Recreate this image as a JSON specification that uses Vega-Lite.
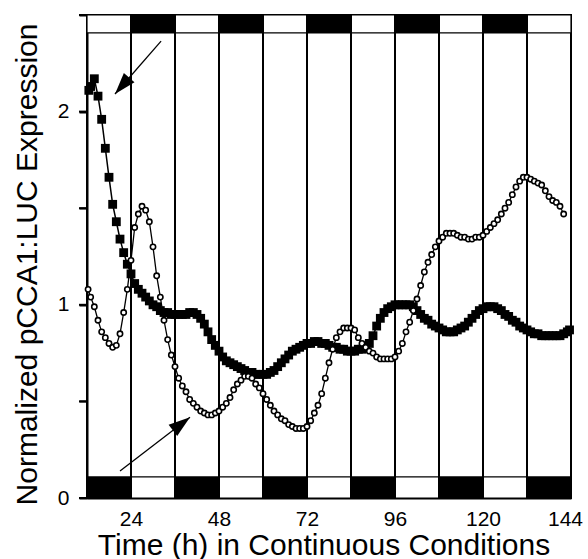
{
  "$schema": "https://vega.github.io/schema/vega-lite/v6.json",
  "width": 484,
  "height": 483,
  "autosize": {"type": "none"},
  "padding": {"left": 87, "top": 15, "right": 17, "bottom": 61},
  "config": {
    "font": "Liberation Sans",
    "view": {"stroke": "black", "strokeWidth": 2},
    "axis": {"grid": false, "domainColor": "black", "domainWidth": 2, "tickColor": "black", "labelColor": "black", "titleColor": "black", "titleFontWeight": "normal", "labelFont": "Liberation Sans", "titleFont": "Liberation Sans", "labelFlush": false, "labelOverlap": false},
    "axisY": {"ticks": true, "tickSize": 8, "tickWidth": 2, "tickColor": "black", "tickOpacity": 1}
  },
  "datasets": {
    "bars": [
      {"start": 12, "end": 24, "bottom": "dark", "top": "light"},
      {"start": 24, "end": 36, "bottom": "light", "top": "dark"},
      {"start": 36, "end": 48, "bottom": "dark", "top": "light"},
      {"start": 48, "end": 60, "bottom": "light", "top": "dark"},
      {"start": 60, "end": 72, "bottom": "dark", "top": "light"},
      {"start": 72, "end": 84, "bottom": "light", "top": "dark"},
      {"start": 84, "end": 96, "bottom": "dark", "top": "light"},
      {"start": 96, "end": 108, "bottom": "light", "top": "dark"},
      {"start": 108, "end": 120, "bottom": "dark", "top": "light"},
      {"start": 120, "end": 132, "bottom": "light", "top": "dark"},
      {"start": 132, "end": 144, "bottom": "dark", "top": "light"}
    ],
    "yticks": [{"v": 0}, {"v": 0.5}, {"v": 1}, {"v": 1.5}, {"v": 2}, {"v": 2.5}],
    "arrows": [
      {"id": "A", "t_start": 32.2, "v_start": 2.365, "t_end": 19.64, "v_end": 2.091},
      {"id": "B", "t_start": 21.0, "v_start": 0.14, "t_end": 40.09, "v_end": 0.418}
    ],
    "curves": [
      {"series": "A", "t": 12.5, "value": 2.11},
      {"series": "A", "t": 13, "value": 2.13},
      {"series": "A", "t": 14, "value": 2.17},
      {"series": "A", "t": 15, "value": 2.08},
      {"series": "A", "t": 16, "value": 1.96},
      {"series": "A", "t": 17, "value": 1.81},
      {"series": "A", "t": 18, "value": 1.66},
      {"series": "A", "t": 19, "value": 1.52},
      {"series": "A", "t": 20, "value": 1.43},
      {"series": "A", "t": 21, "value": 1.34},
      {"series": "A", "t": 22, "value": 1.27},
      {"series": "A", "t": 23, "value": 1.21},
      {"series": "A", "t": 24, "value": 1.16},
      {"series": "A", "t": 25, "value": 1.11},
      {"series": "A", "t": 26, "value": 1.08},
      {"series": "A", "t": 27, "value": 1.06},
      {"series": "A", "t": 28, "value": 1.04},
      {"series": "A", "t": 29, "value": 1.02},
      {"series": "A", "t": 30, "value": 1.0},
      {"series": "A", "t": 31, "value": 0.99},
      {"series": "A", "t": 32, "value": 0.97},
      {"series": "A", "t": 33, "value": 0.96},
      {"series": "A", "t": 34, "value": 0.96},
      {"series": "A", "t": 35, "value": 0.95},
      {"series": "A", "t": 36, "value": 0.95},
      {"series": "A", "t": 37, "value": 0.95},
      {"series": "A", "t": 38, "value": 0.95},
      {"series": "A", "t": 39, "value": 0.95},
      {"series": "A", "t": 40, "value": 0.96},
      {"series": "A", "t": 41, "value": 0.96},
      {"series": "A", "t": 42, "value": 0.95},
      {"series": "A", "t": 43, "value": 0.93},
      {"series": "A", "t": 44, "value": 0.9},
      {"series": "A", "t": 45, "value": 0.86},
      {"series": "A", "t": 46, "value": 0.82},
      {"series": "A", "t": 47, "value": 0.79},
      {"series": "A", "t": 48, "value": 0.76},
      {"series": "A", "t": 49, "value": 0.73},
      {"series": "A", "t": 50, "value": 0.71},
      {"series": "A", "t": 51, "value": 0.7},
      {"series": "A", "t": 52, "value": 0.69},
      {"series": "A", "t": 53, "value": 0.68},
      {"series": "A", "t": 54, "value": 0.67},
      {"series": "A", "t": 55, "value": 0.66},
      {"series": "A", "t": 56, "value": 0.65},
      {"series": "A", "t": 57, "value": 0.65},
      {"series": "A", "t": 58, "value": 0.64},
      {"series": "A", "t": 59, "value": 0.64},
      {"series": "A", "t": 60, "value": 0.64},
      {"series": "A", "t": 61, "value": 0.64},
      {"series": "A", "t": 62, "value": 0.65},
      {"series": "A", "t": 63, "value": 0.66},
      {"series": "A", "t": 64, "value": 0.68},
      {"series": "A", "t": 65, "value": 0.7},
      {"series": "A", "t": 66, "value": 0.72},
      {"series": "A", "t": 67, "value": 0.74},
      {"series": "A", "t": 68, "value": 0.76},
      {"series": "A", "t": 69, "value": 0.77},
      {"series": "A", "t": 70, "value": 0.78},
      {"series": "A", "t": 71, "value": 0.79},
      {"series": "A", "t": 72, "value": 0.8},
      {"series": "A", "t": 73, "value": 0.8},
      {"series": "A", "t": 74, "value": 0.81},
      {"series": "A", "t": 75, "value": 0.81},
      {"series": "A", "t": 76, "value": 0.8},
      {"series": "A", "t": 77, "value": 0.8},
      {"series": "A", "t": 78, "value": 0.79},
      {"series": "A", "t": 79, "value": 0.78},
      {"series": "A", "t": 80, "value": 0.78},
      {"series": "A", "t": 81, "value": 0.77},
      {"series": "A", "t": 82, "value": 0.77},
      {"series": "A", "t": 83, "value": 0.76},
      {"series": "A", "t": 84, "value": 0.76},
      {"series": "A", "t": 85, "value": 0.76},
      {"series": "A", "t": 86, "value": 0.77},
      {"series": "A", "t": 87, "value": 0.77},
      {"series": "A", "t": 88, "value": 0.78},
      {"series": "A", "t": 89, "value": 0.8},
      {"series": "A", "t": 90, "value": 0.84},
      {"series": "A", "t": 91, "value": 0.89},
      {"series": "A", "t": 92, "value": 0.93},
      {"series": "A", "t": 93, "value": 0.96},
      {"series": "A", "t": 94, "value": 0.98},
      {"series": "A", "t": 95, "value": 0.99},
      {"series": "A", "t": 96, "value": 1.0},
      {"series": "A", "t": 97, "value": 1.0},
      {"series": "A", "t": 98, "value": 1.0},
      {"series": "A", "t": 99, "value": 1.0},
      {"series": "A", "t": 100, "value": 1.0},
      {"series": "A", "t": 101, "value": 0.99},
      {"series": "A", "t": 102, "value": 0.97},
      {"series": "A", "t": 103, "value": 0.95},
      {"series": "A", "t": 104, "value": 0.93},
      {"series": "A", "t": 105, "value": 0.92},
      {"series": "A", "t": 106, "value": 0.9},
      {"series": "A", "t": 107, "value": 0.89},
      {"series": "A", "t": 108, "value": 0.88},
      {"series": "A", "t": 109, "value": 0.87},
      {"series": "A", "t": 110, "value": 0.86},
      {"series": "A", "t": 111, "value": 0.86},
      {"series": "A", "t": 112, "value": 0.86},
      {"series": "A", "t": 113, "value": 0.87},
      {"series": "A", "t": 114, "value": 0.88},
      {"series": "A", "t": 115, "value": 0.89},
      {"series": "A", "t": 116, "value": 0.91},
      {"series": "A", "t": 117, "value": 0.93},
      {"series": "A", "t": 118, "value": 0.95},
      {"series": "A", "t": 119, "value": 0.97},
      {"series": "A", "t": 120, "value": 0.98},
      {"series": "A", "t": 121, "value": 0.99},
      {"series": "A", "t": 122, "value": 0.99},
      {"series": "A", "t": 123, "value": 0.99},
      {"series": "A", "t": 124, "value": 0.98},
      {"series": "A", "t": 125, "value": 0.97},
      {"series": "A", "t": 126, "value": 0.95},
      {"series": "A", "t": 127, "value": 0.94},
      {"series": "A", "t": 128, "value": 0.92},
      {"series": "A", "t": 129, "value": 0.91},
      {"series": "A", "t": 130, "value": 0.89},
      {"series": "A", "t": 131, "value": 0.88},
      {"series": "A", "t": 132, "value": 0.87},
      {"series": "A", "t": 133, "value": 0.86},
      {"series": "A", "t": 134, "value": 0.85},
      {"series": "A", "t": 135, "value": 0.85},
      {"series": "A", "t": 136, "value": 0.84},
      {"series": "A", "t": 137, "value": 0.84},
      {"series": "A", "t": 138, "value": 0.84},
      {"series": "A", "t": 139, "value": 0.84},
      {"series": "A", "t": 140, "value": 0.84},
      {"series": "A", "t": 141, "value": 0.84},
      {"series": "A", "t": 142, "value": 0.85},
      {"series": "A", "t": 143, "value": 0.86},
      {"series": "A", "t": 143.6, "value": 0.87},
      {"series": "B", "t": 12.3, "value": 1.08},
      {"series": "B", "t": 13, "value": 1.04},
      {"series": "B", "t": 14, "value": 0.99},
      {"series": "B", "t": 15, "value": 0.92},
      {"series": "B", "t": 16, "value": 0.86},
      {"series": "B", "t": 17, "value": 0.83},
      {"series": "B", "t": 18, "value": 0.8},
      {"series": "B", "t": 19, "value": 0.78},
      {"series": "B", "t": 20, "value": 0.79},
      {"series": "B", "t": 21, "value": 0.85},
      {"series": "B", "t": 22, "value": 0.96},
      {"series": "B", "t": 23, "value": 1.08},
      {"series": "B", "t": 24, "value": 1.23},
      {"series": "B", "t": 25, "value": 1.4},
      {"series": "B", "t": 26, "value": 1.47},
      {"series": "B", "t": 27, "value": 1.51},
      {"series": "B", "t": 28, "value": 1.49},
      {"series": "B", "t": 29, "value": 1.43},
      {"series": "B", "t": 30, "value": 1.3},
      {"series": "B", "t": 31, "value": 1.15},
      {"series": "B", "t": 32, "value": 1.04},
      {"series": "B", "t": 33, "value": 0.92},
      {"series": "B", "t": 34, "value": 0.82},
      {"series": "B", "t": 35, "value": 0.74},
      {"series": "B", "t": 36, "value": 0.68},
      {"series": "B", "t": 37, "value": 0.62},
      {"series": "B", "t": 38, "value": 0.58},
      {"series": "B", "t": 39, "value": 0.55},
      {"series": "B", "t": 40, "value": 0.51},
      {"series": "B", "t": 41, "value": 0.49},
      {"series": "B", "t": 42, "value": 0.47},
      {"series": "B", "t": 43, "value": 0.45},
      {"series": "B", "t": 44, "value": 0.44},
      {"series": "B", "t": 45, "value": 0.43},
      {"series": "B", "t": 46, "value": 0.43},
      {"series": "B", "t": 47, "value": 0.44},
      {"series": "B", "t": 48, "value": 0.45},
      {"series": "B", "t": 49, "value": 0.47},
      {"series": "B", "t": 50, "value": 0.49},
      {"series": "B", "t": 51, "value": 0.52},
      {"series": "B", "t": 52, "value": 0.56},
      {"series": "B", "t": 53, "value": 0.59},
      {"series": "B", "t": 54, "value": 0.61},
      {"series": "B", "t": 55, "value": 0.63},
      {"series": "B", "t": 56, "value": 0.63},
      {"series": "B", "t": 57, "value": 0.62},
      {"series": "B", "t": 58, "value": 0.59},
      {"series": "B", "t": 59, "value": 0.57},
      {"series": "B", "t": 60, "value": 0.54},
      {"series": "B", "t": 61, "value": 0.51},
      {"series": "B", "t": 62, "value": 0.48},
      {"series": "B", "t": 63, "value": 0.45},
      {"series": "B", "t": 64, "value": 0.43},
      {"series": "B", "t": 65, "value": 0.41},
      {"series": "B", "t": 66, "value": 0.4},
      {"series": "B", "t": 67, "value": 0.38},
      {"series": "B", "t": 68, "value": 0.37},
      {"series": "B", "t": 69, "value": 0.36},
      {"series": "B", "t": 70, "value": 0.36},
      {"series": "B", "t": 71, "value": 0.36},
      {"series": "B", "t": 72, "value": 0.37},
      {"series": "B", "t": 73, "value": 0.4},
      {"series": "B", "t": 74, "value": 0.44},
      {"series": "B", "t": 75, "value": 0.48},
      {"series": "B", "t": 76, "value": 0.54},
      {"series": "B", "t": 77, "value": 0.62},
      {"series": "B", "t": 78, "value": 0.7},
      {"series": "B", "t": 79, "value": 0.77},
      {"series": "B", "t": 80, "value": 0.83},
      {"series": "B", "t": 81, "value": 0.86},
      {"series": "B", "t": 82, "value": 0.88},
      {"series": "B", "t": 83, "value": 0.88},
      {"series": "B", "t": 84, "value": 0.88},
      {"series": "B", "t": 85, "value": 0.87},
      {"series": "B", "t": 86, "value": 0.83},
      {"series": "B", "t": 87, "value": 0.8},
      {"series": "B", "t": 88, "value": 0.78},
      {"series": "B", "t": 89, "value": 0.76},
      {"series": "B", "t": 90, "value": 0.75},
      {"series": "B", "t": 91, "value": 0.73},
      {"series": "B", "t": 92, "value": 0.72},
      {"series": "B", "t": 93, "value": 0.72},
      {"series": "B", "t": 94, "value": 0.72},
      {"series": "B", "t": 95, "value": 0.72},
      {"series": "B", "t": 96, "value": 0.73},
      {"series": "B", "t": 97, "value": 0.76},
      {"series": "B", "t": 98, "value": 0.8},
      {"series": "B", "t": 99, "value": 0.86},
      {"series": "B", "t": 100, "value": 0.91},
      {"series": "B", "t": 101, "value": 0.97},
      {"series": "B", "t": 102, "value": 1.03},
      {"series": "B", "t": 103, "value": 1.1},
      {"series": "B", "t": 104, "value": 1.17},
      {"series": "B", "t": 105, "value": 1.22},
      {"series": "B", "t": 106, "value": 1.26},
      {"series": "B", "t": 107, "value": 1.3},
      {"series": "B", "t": 108, "value": 1.33},
      {"series": "B", "t": 109, "value": 1.35},
      {"series": "B", "t": 110, "value": 1.37},
      {"series": "B", "t": 111, "value": 1.37},
      {"series": "B", "t": 112, "value": 1.37},
      {"series": "B", "t": 113, "value": 1.36},
      {"series": "B", "t": 114, "value": 1.35},
      {"series": "B", "t": 115, "value": 1.35},
      {"series": "B", "t": 116, "value": 1.34},
      {"series": "B", "t": 117, "value": 1.34},
      {"series": "B", "t": 118, "value": 1.35},
      {"series": "B", "t": 119, "value": 1.35},
      {"series": "B", "t": 120, "value": 1.36},
      {"series": "B", "t": 121, "value": 1.38},
      {"series": "B", "t": 122, "value": 1.4},
      {"series": "B", "t": 123, "value": 1.42},
      {"series": "B", "t": 124, "value": 1.44},
      {"series": "B", "t": 125, "value": 1.47},
      {"series": "B", "t": 126, "value": 1.5},
      {"series": "B", "t": 127, "value": 1.53},
      {"series": "B", "t": 128, "value": 1.57},
      {"series": "B", "t": 129, "value": 1.61},
      {"series": "B", "t": 130, "value": 1.64},
      {"series": "B", "t": 131, "value": 1.66},
      {"series": "B", "t": 132, "value": 1.66},
      {"series": "B", "t": 133, "value": 1.65},
      {"series": "B", "t": 134, "value": 1.64},
      {"series": "B", "t": 135, "value": 1.63},
      {"series": "B", "t": 136, "value": 1.62},
      {"series": "B", "t": 137, "value": 1.59},
      {"series": "B", "t": 138, "value": 1.56},
      {"series": "B", "t": 139, "value": 1.54},
      {"series": "B", "t": 140, "value": 1.53},
      {"series": "B", "t": 141, "value": 1.51},
      {"series": "B", "t": 142, "value": 1.47}
    ]
  },
  "layer": [
    {
      "data": {"name": "bars"},
      "mark": {"type": "rect", "stroke": "black", "strokeWidth": 1.2},
      "encoding": {
        "x": {
          "field": "start", "type": "quantitative",
          "scale": {"domain": [12, 144], "nice": false, "zero": false},
          "axis": {
            "title": "Time (h) in Continuous Conditions",
            "values": [24, 48, 72, 96, 120, 144],
            "ticks": false,
            "labelFontSize": 21,
            "labelPadding": 10,
            "labelOffset": {"expr": "datum.value === 144 ? -6 : 0"},
            "titleFontSize": 30,
            "titleX": 236.5,
            "titleY": 56,
            "titleBaseline": "alphabetic",
            "titleAlign": "center"
          }
        },
        "x2": {"field": "end"},
        "y": {
          "datum": 0, "type": "quantitative",
          "scale": {"domain": [0, 2.5], "nice": false},
          "axis": {
            "title": "Normalized pCCA1:LUC Expression",
            "values": [0, 0.5, 1, 1.5, 2, 2.5],
            "labelExpr": "datum.value === 0 || datum.value === 1 || datum.value === 2 ? format(datum.value, 'd') : ''",
            "ticks": true,
            "tickSize": 8,
            "tickWidth": 2,
            "tickColor": "black",
            "labelFontSize": 21,
            "labelPadding": 10,
            "titleFontSize": 30,
            "titleX": -51,
            "titleY": 249,
            "titleAngle": 270,
            "titleBaseline": "alphabetic",
            "titleAlign": "center"
          }
        },
        "y2": {"datum": 0.109},
        "fill": {"field": "bottom", "type": "nominal", "scale": {"domain": ["dark", "light"], "range": ["black", "white"]}, "legend": null}
      }
    },
    {
      "data": {"name": "bars"},
      "mark": {"type": "rect", "stroke": "black", "strokeWidth": 1.2},
      "encoding": {
        "x": {"field": "start", "type": "quantitative"},
        "x2": {"field": "end"},
        "y": {"datum": 2.407, "type": "quantitative"},
        "y2": {"datum": 2.5},
        "fill": {"field": "top", "type": "nominal", "legend": null}
      }
    },
    {
      "data": {"name": "bars"},
      "transform": [{"filter": "datum.start > 12"}],
      "mark": {"type": "rule", "color": "black", "strokeWidth": 2},
      "encoding": {
        "x": {"field": "start", "type": "quantitative"}
      }
    },
    {
      "data": {"name": "yticks"},
      "mark": {"type": "rule", "color": "black", "strokeWidth": 2},
      "encoding": {
        "x": {"datum": 12, "type": "quantitative"},
        "x2": {"datum": 9.82},
        "y": {"field": "v", "type": "quantitative"}
      }
    },
    {
      "data": {"name": "curves"},
      "transform": [{"filter": "datum.series === 'A'"}],
      "mark": {"type": "line", "color": "black", "strokeWidth": 1.5},
      "encoding": {
        "x": {"field": "t", "type": "quantitative"},
        "y": {"field": "value", "type": "quantitative"}
      }
    },
    {
      "data": {"name": "curves"},
      "transform": [{"filter": "datum.series === 'A'"}],
      "mark": {"type": "point", "shape": "square", "filled": true, "fill": "black", "size": 78, "opacity": 1},
      "encoding": {
        "x": {"field": "t", "type": "quantitative"},
        "y": {"field": "value", "type": "quantitative"}
      }
    },
    {
      "data": {"name": "curves"},
      "transform": [{"filter": "datum.series === 'B'"}],
      "mark": {"type": "line", "color": "black", "strokeWidth": 1.3},
      "encoding": {
        "x": {"field": "t", "type": "quantitative"},
        "y": {"field": "value", "type": "quantitative"}
      }
    },
    {
      "data": {"name": "curves"},
      "transform": [{"filter": "datum.series === 'B'"}],
      "mark": {"type": "point", "shape": "circle", "filled": true, "fill": "white", "stroke": "black", "strokeWidth": 1.6, "size": 28, "opacity": 1},
      "encoding": {
        "x": {"field": "t", "type": "quantitative"},
        "y": {"field": "value", "type": "quantitative"}
      }
    },
    {
      "data": {"name": "arrows"},
      "mark": {"type": "rule", "color": "black", "strokeWidth": 1.3},
      "encoding": {
        "x": {"field": "t_start", "type": "quantitative"},
        "y": {"field": "v_start", "type": "quantitative"},
        "x2": {"field": "t_end"},
        "y2": {"field": "v_end"}
      }
    },
    {
      "data": {"name": "arrows"},
      "mark": {"type": "point", "shape": "M0,0L0.65,2L-0.65,2Z", "filled": true, "fill": "black", "size": 466, "opacity": 1},
      "encoding": {
        "x": {"field": "t_end", "type": "quantitative"},
        "y": {"field": "v_end", "type": "quantitative"},
        "angle": {"condition": {"test": "datum.id === 'A'", "value": 221}, "value": 52.4}
      }
    }
  ]
}
